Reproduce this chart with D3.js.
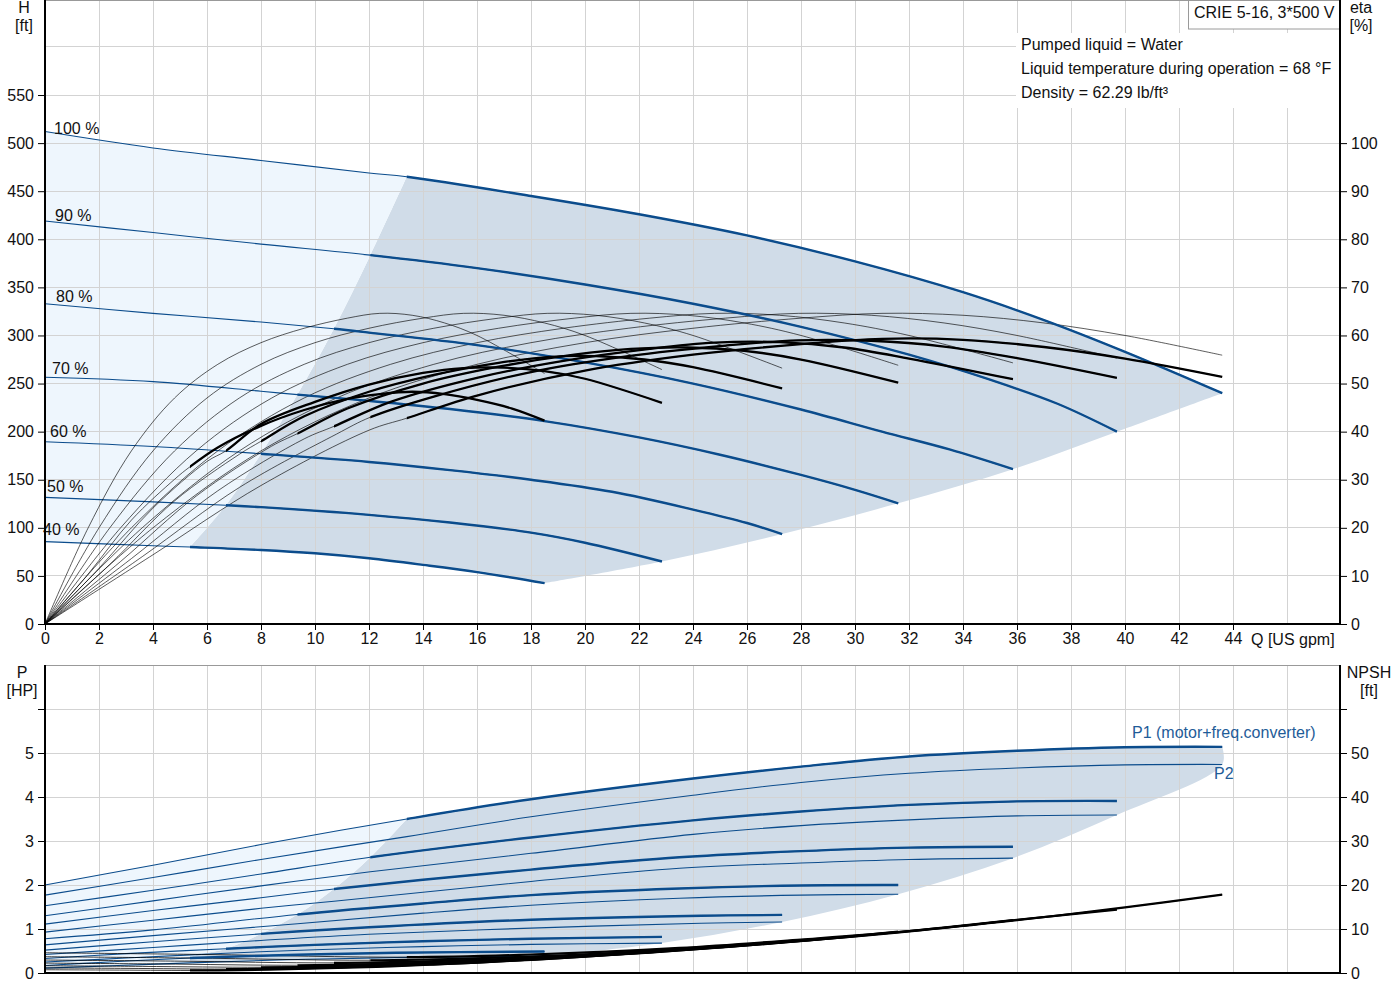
<!DOCTYPE html>
<html><head><meta charset="utf-8">
<script src="https://cdn.jsdelivr.net/npm/d3@7"></script>
<style>
body{margin:0;background:#fff}
svg{display:block}
text{font-family:"Liberation Sans",Arial,Helvetica,sans-serif;fill:#111}
</style>
</head><body>
<svg id="c" width="1400" height="1000"></svg>
<script>
// ---------------- DATA ----------------
const speedLabels = ["100 %","90 %","80 %","70 %","60 %","50 %","40 %"];
const qMin = [13.4, 12.05, 10.7, 9.35, 8.0, 6.7, 5.37];
const qMax = [43.6, 39.7, 35.85, 31.6, 27.3, 22.85, 18.5];

const qTicks = [0,2,4,6,8,10,12,14,16,18,20,22,24,26,28,30,32,34,36,38,40,42,44];
const hTicks = [0,50,100,150,200,250,300,350,400,450,500,550];
const etaTicks = [0,10,20,30,40,50,60,70,80,90,100];
const pTicks = [0,1,2,3,4,5,6];
const npshTicks = [0,10,20,30,40,50,60];

// Head H [ft] vs Q [US gpm]
const h100 = [[0,512],[4,495],[8,482],[12,469],[13.4,465],[18,445],[22,426],[26,404],[30,377],[34,345],[37,316],[40,283],[43.6,240]];
const h90  = [[0,419],[4,407],[8,395],[12.05,383.5],[16,370],[20,353],[24,333],[28,309],[32,280],[35,254],[37.5,229],[39.7,200]];
const h80  = [[0,333],[4,323],[8,314],[10.7,307],[12,303],[16,290],[20,272],[24,250],[28,223],[31,200],[33.5,181.5],[35.85,161]];
const h70  = [[0,256.5],[4,252],[8,242],[9.35,238.5],[12,232],[15,223.5],[18.5,211],[22,194],[25,176],[28,155],[30,139.5],[31.6,125.5]];
const h60  = [[0,189.5],[4,184.5],[8,177],[12,168.5],[15,160],[18,150],[21,137.5],[24,119],[26,105],[27.3,93.5]];
const h50  = [[0,131.7],[4,127],[6.7,123.5],[8,121.5],[12,113.5],[15,105.5],[18,95],[20,84.5],[22.85,65]];
const h40  = [[0,85.6],[4,81.4],[5.37,80],[8,77],[10,73.5],[12,68.3],[14,61.5],[16,54],[18.5,42.5]];

// Pump efficiency eta [%] (thin curves)
const ep100 = [[0,0],[4,20],[8,36],[12,47],[16,54],[20,58.5],[24,61.5],[28,63.6],[31,64.6],[34,64.2],[37,62.6],[40,60],[43.6,55.9]];
const ep90  = [[0,0],[3.6,20],[7.2,36],[10.8,47],[14.4,54],[18,58.5],[21.6,61.5],[25.2,63.6],[27.9,64.6],[30.6,64.2],[33.3,62.6],[36,60],[39.7,55.3]];
const ep80  = [[0,0],[3.2,20],[6.4,36],[9.6,47],[12.8,54],[16,58.5],[19.2,61.5],[22.4,63.6],[24.8,64.6],[27.2,64.2],[29.6,62.6],[32,60],[35.85,54.3]];
const ep70  = [[0,0],[2.8,20],[5.6,36],[8.4,47],[11.2,54],[14,58.5],[16.8,61.5],[19.6,63.6],[21.7,64.6],[23.8,64.2],[25.9,62.6],[28,60],[31.6,53.8]];
const ep60  = [[0,0],[2.4,20],[4.8,36],[7.2,47],[9.6,54],[12,58.5],[14.4,61.5],[16.8,63.6],[18.6,64.6],[20.4,64.2],[22.2,62.6],[24,60],[27.3,53.2]];
const ep50  = [[0,0],[2,20],[4,36],[6,47],[8,54],[10,58.5],[12,61.5],[14,63.6],[15.5,64.6],[17,64.2],[18.5,62.6],[20,60],[22.85,52.9]];
const ep40  = [[0,0],[1.6,20],[3.2,36],[4.8,47],[6.4,54],[8,58.5],[9.6,61.5],[11.2,63.6],[12.4,64.6],[13.6,64.2],[14.8,62.6],[16,60],[18.5,52.1]];

// Total efficiency eta [%] (thick inside operating range)
const et100 = [[0,0],[4,14.4],[8,28.8],[12,40.3],[13.4,42.8],[16,47.5],[20,52.7],[24,56],[28,58.2],[31,59.3],[34,59.1],[37,57.6],[40,55.2],[43.6,51.4]];
const et90  = [[0,0],[3.6,14],[7.2,28.4],[10.8,39.5],[12.05,43],[14.4,47.3],[18,52.4],[21.6,55.7],[25.2,57.9],[27.9,59],[30.6,58.9],[33.3,57.7],[36,55.3],[39.7,51.2]];
const et80  = [[0,0],[3.2,13.6],[6.4,27.7],[9.6,38.5],[10.7,41.1],[12.8,46.2],[16,51.2],[19.2,54.7],[22.4,57.2],[24.8,58.5],[27.2,58.6],[29.6,57.5],[32,55.2],[35.85,50.9]];
const et70  = [[0,0],[2.8,13],[5.6,26.6],[8.4,37],[9.35,39.6],[11.2,44.8],[14,50],[16.8,53.5],[19.6,56],[21.7,57.2],[23.8,57.5],[25.9,56.8],[28,55],[31.6,50.2]];
const et60  = [[0,0],[2.4,12.4],[4.8,25.6],[7.2,35.3],[8,38],[9.6,43.2],[12,48.3],[14.4,51.8],[16.8,54.3],[18.6,55.5],[20.4,55.7],[22.2,55],[24,53.4],[27.3,49]];
const et50  = [[0,0],[2,11.6],[4,24.1],[6,33.8],[6.7,36],[8,41.6],[10,46.2],[12,49.8],[14,52.2],[15.5,53.2],[17,53.3],[18.5,52.6],[20,51],[22.85,46]];
const et40  = [[0,0],[1.6,10.4],[3.2,21.6],[4.8,30.1],[5.37,32.7],[6.4,36.7],[8,41.2],[9.6,44.5],[11.2,46.8],[12.4,47.8],[13.6,48.3],[14.8,47.8],[16,46.6],[17.3,44.8],[18.5,42.3]];

// Power P1 (motor+freq.converter) [HP]
const p1_100 = [[0,2.0],[4,2.45],[8,2.92],[13.4,3.5],[18,3.95],[24,4.42],[28,4.69],[32,4.92],[36,5.05],[40,5.13],[43.6,5.14]];
const p1_90  = [[0,1.53],[4,1.88],[8,2.25],[12.05,2.63],[18,3.08],[24,3.47],[28,3.67],[32,3.82],[36,3.9],[39.7,3.91]];
const p1_80  = [[0,1.11],[4,1.42],[8,1.71],[10.7,1.91],[14,2.12],[18,2.35],[23.5,2.63],[28,2.77],[32,2.85],[35.85,2.87]];
const p1_70  = [[0,0.78],[4,0.98],[9.35,1.33],[14,1.58],[18,1.77],[23.5,1.92],[28,1.99],[31.6,2.0]];
const p1_60  = [[0,0.52],[4,0.71],[8,0.89],[12,1.04],[18,1.21],[24.3,1.3],[27.3,1.32]];
const p1_50  = [[0,0.33],[3,0.44],[6.7,0.55],[10,0.64],[14,0.72],[18,0.78],[22.85,0.82]];
const p1_40  = [[0,0.17],[2.7,0.26],[5.37,0.34],[9,0.41],[13,0.46],[18.5,0.49]];
// Power P2 (shaft) [HP]
const p2_100 = [[0,1.77],[4,2.17],[8,2.58],[13.4,3.1],[18,3.55],[24,4.04],[28,4.33],[32,4.54],[36,4.66],[40,4.73],[43.6,4.74]];
const p2_90  = [[0,1.30],[4,1.64],[8,1.98],[12.05,2.3],[18,2.72],[24,3.15],[28,3.35],[32,3.48],[36,3.57],[39.7,3.59]];
const p2_80  = [[0,0.93],[4,1.2],[8,1.47],[10.7,1.63],[18,2.08],[23.5,2.38],[28,2.5],[32,2.58],[35.85,2.61]];
const p2_70  = [[0,0.64],[4,0.85],[9.35,1.12],[14,1.36],[18,1.54],[23.5,1.7],[28,1.77],[31.6,1.79]];
const p2_60  = [[0,0.42],[4,0.58],[8,0.74],[12,0.88],[18,1.02],[24.3,1.13],[27.3,1.16]];
const p2_50  = [[0,0.25],[3,0.34],[6.7,0.45],[10,0.53],[14,0.6],[18,0.65],[22.85,0.68]];
const p2_40  = [[0,0.11],[2.7,0.17],[5.37,0.23],[9,0.3],[13,0.35],[18.5,0.38]];

// NPSH [ft]
const n100 = [[0,4.6],[6,4.2],[13.4,3.6],[18,4.2],[23.5,5.7],[28,7.6],[32,9.5],[36,12],[40,14.9],[43.6,17.8]];
const n90  = [[0,3.7],[5.4,3.4],[12.05,2.9],[16.2,3.4],[21.15,4.6],[25.2,6.15],[28.8,7.7],[32.4,9.7],[36,12.1],[39.7,14.4]];
const n80  = [[0,2.95],[4.8,2.7],[10.7,2.3],[14.4,2.7],[18.8,3.65],[22.4,4.86],[25.6,6.08],[28.8,7.68],[32,9.54],[35.85,12.0]];
const n70  = [[0,2.25],[4.2,2.06],[9.35,1.76],[12.6,2.06],[16.45,2.8],[19.6,3.72],[22.4,4.66],[25.2,5.88],[28,7.3],[31.6,9.4]];
const n60  = [[0,1.65],[3.6,1.5],[8,1.3],[10.8,1.5],[14.1,2.05],[16.8,2.74],[19.2,3.42],[21.6,4.32],[24,5.36],[27.3,7.0]];
const n50  = [[0,1.15],[3,1.05],[6.7,0.9],[9,1.05],[11.75,1.43],[14,1.9],[16,2.38],[18,3.0],[20,3.72],[22.85,4.9]];
const n40  = [[0,0.74],[2.4,0.67],[5.37,0.58],[7.2,0.67],[9.4,0.91],[11.2,1.22],[12.8,1.52],[14.4,1.92],[16,2.38],[18.5,3.25]];

const H = [h100,h90,h80,h70,h60,h50,h40];
const EP = [ep100,ep90,ep80,ep70,ep60,ep50,ep40];
const ET = [et100,et90,et80,et70,et60,et50,et40];
const P1 = [p1_100,p1_90,p1_80,p1_70,p1_60,p1_50,p1_40];
const P2 = [p2_100,p2_90,p2_80,p2_70,p2_60,p2_50,p2_40];
const NP = [n100,n90,n80,n70,n60,n50,n40];

// ---------------- LAYOUT ----------------
const BLUE = "#0b4c8c", DARK = "#d0dce8", LIGHT = "#eef6fd", GRID = "#d3d3d3";
const FS = 16;
const svg = d3.select("#c");
const x  = d3.scaleLinear().domain([0,48]).range([45,1341]);
const yH = d3.scaleLinear().domain([0,648.8]).range([624,0]);
const yE = d3.scaleLinear().domain([0,129.76]).range([624,0]);
const yP = d3.scaleLinear().domain([0,7]).range([973,665]);
const yN = d3.scaleLinear().domain([0,70]).range([973,665]);
const X0 = 45, X1 = 1340;

const curve = d3.curveCatmullRom.alpha(0.5);
function lineFor(sy){ return d3.line().x(d=>x(d[0])).y(d=>sy(d[1])).curve(curve); }
const lH = lineFor(yH), lE = lineFor(yE), lP = lineFor(yP), lN = lineFor(yN);
const atQ = (arr,q) => arr.find(d=>Math.abs(d[0]-q)<1e-6);
function seg(gen, pts, cont){ const s = gen(pts); return cont ? "L" + s.slice(1) : s; }

const defs = svg.append("defs");
qMin.forEach((qm,i)=>{
  defs.append("clipPath").attr("id","clip"+i).append("rect")
    .attr("x", x(qm)).attr("y",0).attr("width", x(qMax[i]) - x(qm) + 3).attr("height",1000);
});

// ---------- TOP PANEL: shaded areas ----------
{
  const top = H[0].filter(d=>d[0]>=qMin[0]-1e-9);
  const right = H.map(h=>h[h.length-1]);
  const bottom = H[6].filter(d=>d[0]>=qMin[6]-1e-9).slice().reverse();
  const left = H.map((h,i)=>atQ(h,qMin[i])).reverse();
  svg.append("path").attr("fill",DARK)
    .attr("d", seg(lH,top,false)+seg(lH,right,true)+seg(lH,bottom,true)+seg(lH,left,true)+"Z");
  const ltop = H[0].filter(d=>d[0]<=qMin[0]+1e-9);
  const lleft = H.map((h,i)=>atQ(h,qMin[i]));
  const lbot = H[6].filter(d=>d[0]<=qMin[6]+1e-9).slice().reverse();
  svg.append("path").attr("fill",LIGHT)
    .attr("d", seg(lH,ltop,false)+seg(lH,lleft,true)+seg(lH,lbot,true)+"Z");
}
// ---------- BOTTOM PANEL: shaded areas ----------
{
  const top = P1[0].filter(d=>d[0]>=qMin[0]-1e-9);
  const right = [P1[0][P1[0].length-1]].concat(P2.map(p=>p[p.length-1]));
  const bottom = P2[6].filter(d=>d[0]>=qMin[6]-1e-9).slice().reverse();
  const left = [atQ(P2[6],qMin[6])].concat(P1.map((p,i)=>atQ(p,qMin[i])).reverse());
  svg.append("path").attr("fill",DARK)
    .attr("d", seg(lP,top,false)+seg(lP,right,true)+seg(lP,bottom,true)+seg(lP,left,true)+"Z");
  const ltop = P1[0].filter(d=>d[0]<=qMin[0]+1e-9);
  const lleft = P1.map((p,i)=>atQ(p,qMin[i])).concat([atQ(P2[6],qMin[6])]);
  const lbot = P2[6].filter(d=>d[0]<=qMin[6]+1e-9).slice().reverse();
  svg.append("path").attr("fill",LIGHT)
    .attr("d", seg(lP,ltop,false)+seg(lP,lleft,true)+seg(lP,lbot,true)+"Z");
}

// ---------- GRID ----------
const grid = svg.append("g").attr("stroke",GRID).attr("stroke-width",1).attr("shape-rendering","crispEdges");
d3.range(2,47,2).forEach(q=>{
  grid.append("line").attr("x1",x(q)).attr("x2",x(q)).attr("y1",0).attr("y2",624);
  grid.append("line").attr("x1",x(q)).attr("x2",x(q)).attr("y1",665).attr("y2",973);
});
d3.range(50,601,50).forEach(h=>grid.append("line").attr("x1",X0).attr("x2",X1).attr("y1",yH(h)).attr("y2",yH(h)));
d3.range(1,7,1).forEach(p=>grid.append("line").attr("x1",X0).attr("x2",X1).attr("y1",yP(p)).attr("y2",yP(p)));

// info block backgrounds
svg.append("rect").attr("x",1016).attr("y",33).attr("width",X1-1016).attr("height",75).attr("fill","#fff");
svg.append("rect").attr("x",1188.5).attr("y",-1).attr("width",X1-1188.5).attr("height",30).attr("fill","#fff").attr("stroke","#9a9a9a");

// ---------- CURVES TOP ----------
const gT = svg.append("g").attr("fill","none");
H.forEach(h=>gT.append("path").attr("d",lH(h)).attr("stroke",BLUE).attr("stroke-width",1.1));
EP.forEach(e=>gT.append("path").attr("d",lE(e)).attr("stroke","#000").attr("stroke-width",0.75).attr("stroke-opacity",0.85));
ET.forEach(e=>gT.append("path").attr("d",lE(e)).attr("stroke","#000").attr("stroke-width",0.75).attr("stroke-opacity",0.85));
H.forEach((h,i)=>gT.append("path").attr("d",lH(h)).attr("stroke",BLUE).attr("stroke-width",2.4).attr("clip-path",`url(#clip${i})`));
ET.forEach((e,i)=>gT.append("path").attr("d",lE(e)).attr("stroke","#000").attr("stroke-width",2.3).attr("clip-path",`url(#clip${i})`));

// speed labels
const labelDx = [9,10,11,7,5,2,-2], labelDy = [-3,-6,-7,-9,-10,-11,-12];
H.forEach((h,i)=>{
  svg.append("text").attr("x", x(0)+labelDx[i]).attr("y", yH(h[0][1])+labelDy[i])
    .attr("dominant-baseline","central").attr("font-size",FS).text(speedLabels[i]);
});

// ---------- CURVES BOTTOM ----------
const gB = svg.append("g").attr("fill","none");
P2.forEach(p=>gB.append("path").attr("d",lP(p)).attr("stroke",BLUE).attr("stroke-width",1.1));
P1.forEach(p=>gB.append("path").attr("d",lP(p)).attr("stroke",BLUE).attr("stroke-width",1.1));
NP.forEach(n=>gB.append("path").attr("d",lN(n)).attr("stroke","#000").attr("stroke-width",0.75));
P1.forEach((p,i)=>gB.append("path").attr("d",lP(p)).attr("stroke",BLUE).attr("stroke-width",2.4).attr("clip-path",`url(#clip${i})`));
NP.forEach((n,i)=>gB.append("path").attr("d",lN(n)).attr("stroke","#000").attr("stroke-width",2.2).attr("clip-path",`url(#clip${i})`));

svg.append("text").attr("x",1132).attr("y",732).attr("dominant-baseline","central").attr("font-size",FS)
  .style("fill","#1f5c98").text("P1 (motor+freq.converter)");
svg.append("text").attr("x",1214).attr("y",773).attr("dominant-baseline","central").attr("font-size",FS)
  .style("fill","#1f5c98").text("P2");

// ---------- AXES ----------
function styleAxis(g){
  g.select(".domain").remove();
  g.selectAll("text").attr("font-size",FS).style("fill","#111");
  g.selectAll(".tick line").attr("stroke","#000");
}
svg.append("g").attr("transform",`translate(${X0},0)`)
  .call(d3.axisLeft(yH).tickValues(hTicks).tickSize(7).tickPadding(4)).call(styleAxis);
svg.append("g").attr("transform",`translate(${X1},0)`)
  .call(d3.axisRight(yE).tickValues(etaTicks).tickSize(7).tickPadding(4)).call(styleAxis);
svg.append("g").attr("transform",`translate(0,624)`)
  .call(d3.axisBottom(x).tickValues(qTicks).tickSize(6).tickPadding(3)).call(styleAxis);
svg.append("g").attr("transform",`translate(${X0},0)`)
  .call(d3.axisLeft(yP).tickValues(pTicks).tickSize(7).tickPadding(4).tickFormat(d=>d<6?d:"")).call(styleAxis);
svg.append("g").attr("transform",`translate(${X1},0)`)
  .call(d3.axisRight(yN).tickValues(npshTicks).tickSize(7).tickPadding(4).tickFormat(d=>d<60?d:"")).call(styleAxis);

// frames
const fr = svg.append("g").attr("shape-rendering","crispEdges");
fr.append("line").attr("x1",X0).attr("x2",X1).attr("y1",0.5).attr("y2",0.5).attr("stroke","#999");
fr.append("line").attr("x1",X0).attr("x2",X1).attr("y1",665).attr("y2",665).attr("stroke","#999");
fr.append("line").attr("x1",X0).attr("x2",X0).attr("y1",0).attr("y2",624).attr("stroke","#000").attr("stroke-width",1.5);
fr.append("line").attr("x1",X1).attr("x2",X1).attr("y1",0).attr("y2",624).attr("stroke","#000").attr("stroke-width",1.5);
fr.append("line").attr("x1",X0).attr("x2",X1).attr("y1",624).attr("y2",624).attr("stroke","#000").attr("stroke-width",1.5);
fr.append("line").attr("x1",X0).attr("x2",X0).attr("y1",665).attr("y2",973).attr("stroke","#000").attr("stroke-width",1.5);
fr.append("line").attr("x1",X1).attr("x2",X1).attr("y1",665).attr("y2",973).attr("stroke","#000").attr("stroke-width",1.5);
fr.append("line").attr("x1",X0).attr("x2",X1).attr("y1",973).attr("y2",973).attr("stroke","#000").attr("stroke-width",1.5);

// axis titles
function t(xp,yp,s,anchor,size){ svg.append("text").attr("x",xp).attr("y",yp).attr("text-anchor",anchor||"middle")
  .attr("dominant-baseline","central").attr("font-size",size||FS).text(s); }
t(24,7,"H"); t(24,25,"[ft]");
t(1361,7,"eta"); t(1361,25,"[%]");
t(1251,639,"Q [US gpm]","start");
t(22,672,"P"); t(22,690,"[HP]");
t(1369,672,"NPSH"); t(1369,690,"[ft]");
t(1194,12,"CRIE 5-16, 3*500 V","start",16);
t(1021,44,"Pumped liquid = Water","start");
t(1021,68,"Liquid temperature during operation = 68 °F","start");
t(1021,92,"Density = 62.29 lb/ft³","start");
</script>
</body></html>
